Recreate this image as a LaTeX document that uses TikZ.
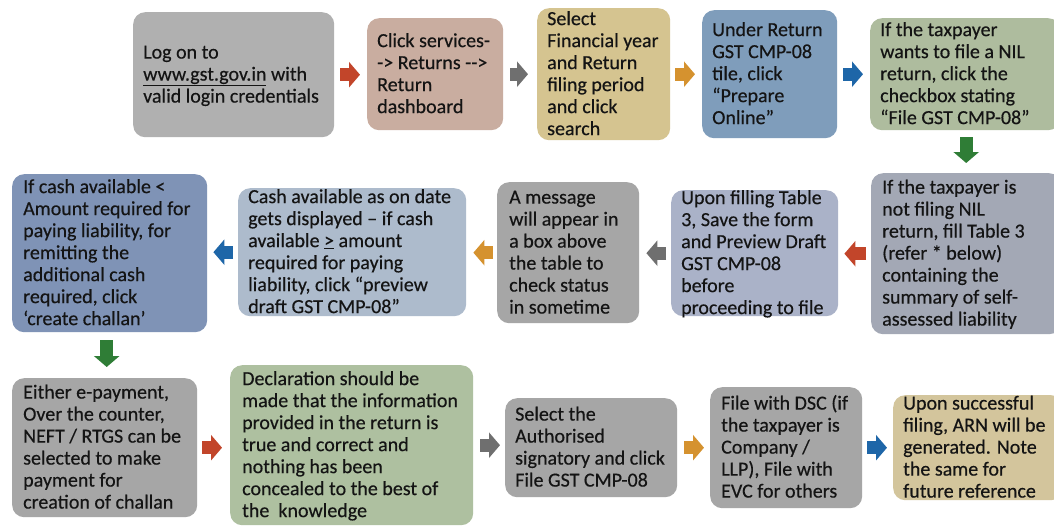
\documentclass[tikz,border=0pt]{standalone}
\usepackage{fontspec}
\setmainfont{Carlito}[FakeBold=0.4]
\usetikzlibrary{arrows.meta}
\definecolor{cbA}{HTML}{B0B0B0}
\definecolor{cbB}{HTML}{C9ADA0}
\definecolor{cbC}{HTML}{D5C490}
\definecolor{cbD}{HTML}{7F9DBB}
\definecolor{cbE}{HTML}{AEBC9E}
\definecolor{ccA}{HTML}{A3A8B5}
\definecolor{ccB}{HTML}{AAB2C8}
\definecolor{ccC}{HTML}{A6A6A6}
\definecolor{ccD}{HTML}{ADBBCC}
\definecolor{ccE}{HTML}{7F93B6}
\definecolor{cdA}{HTML}{A6A6A6}
\definecolor{cdB}{HTML}{AEC0A0}
\definecolor{cdC}{HTML}{A6A6A6}
\definecolor{cdD}{HTML}{A6A6A6}
\definecolor{cdE}{HTML}{D3C59C}
\definecolor{arR}{HTML}{C2452A}
\definecolor{arG}{HTML}{6F6F6F}
\definecolor{arO}{HTML}{D5922F}
\definecolor{arB}{HTML}{1E66A8}
\definecolor{arV}{HTML}{2F7D36}
\definecolor{txtc}{HTML}{141414}
\newcommand{\bl}[1]{\begin{tabular}{@{}l@{}}#1\end{tabular}}
\begin{document}
\begin{tikzpicture}[x=1pt,y=-1pt,
  box/.style={rounded corners=12pt, draw=none, inner sep=0pt, anchor=north west},
  txt/.style={inner sep=0pt, anchor=west, text=txtc, font=\fontsize{20}{22}\selectfont},
  flow/.style={line width=13pt, -{Triangle[width=25pt,length=11pt]}}]
\fill[white] (0,0) rectangle (1054,527);
\useasboundingbox (0,0) rectangle (1054,527);
% row 1
\node[box, fill=cbA, minimum width=201pt, minimum height=125pt] (b1) at (133,12) {};
\node[txt] (t1) at ([xshift=10pt,yshift=-1.5pt]b1.west) {\bl{Log on to\\\underline{www.gst.gov.in} with\\valid login credentials}};
\node[box, fill=cbB, minimum width=136pt, minimum height=112pt] (b2) at (367,18) {};
\node[txt] (t2) at ([xshift=10pt,yshift=-1.5pt]b2.west) {\bl{Click services-\\-> Returns -{}->\\Return\\dashboard}};
\node[box, fill=cbC, minimum width=133pt, minimum height=132pt] (b3) at (537,8) {};
\node[txt] (t3) at ([xshift=10pt,yshift=-1.5pt]b3.west) {\bl{Select\\Financial year\\and Return\\filing period\\and click\\search}};
\node[box, fill=cbD, minimum width=135pt, minimum height=128pt] (b4) at (702,10) {};
\node[txt] (t4) at ([xshift=10pt,yshift=-1.5pt]b4.west) {\bl{Under Return\\GST CMP-08\\tile, click\\“Prepare\\Online”}};
\node[box, fill=cbE, minimum width=190pt, minimum height=112pt] (b5) at (870,18) {};
\node[txt] (t5) at ([xshift=10pt,yshift=-1.5pt]b5.west) {\bl{If the taxpayer\\wants to file a NIL\\return, click the\\checkbox stating\\“File GST CMP-08”}};
% row 2
\node[box, fill=ccA, minimum width=190pt, minimum height=161pt] (c1) at (871,173) {};
\node[txt] (s1) at ([xshift=11pt,yshift=-1.5pt]c1.west) {\bl{If the taxpayer is\\not filing NIL\\return, fill Table 3\\(refer * below)\\containing the\\summary of self-\\assessed liability}};
\node[box, fill=ccB, minimum width=167pt, minimum height=126pt] (c2) at (671,190) {};
\node[txt] (s2) at ([xshift=10pt,yshift=-1.5pt]c2.west) {\bl{Upon filling Table\\3, Save the form\\and Preview Draft\\GST CMP-08\\before\\proceeding to file}};
\node[box, fill=ccC, minimum width=142pt, minimum height=141pt] (c3) at (497,182) {};
\node[txt] (s3) at ([xshift=12pt,yshift=-1.5pt]c3.west) {\bl{A message\\will appear in\\a box above\\the table to\\check status\\in sometime}};
\node[box, fill=ccD, minimum width=228pt, minimum height=128pt] (c4) at (238,188) {};
\node[txt] (s4) at ([xshift=10pt,yshift=-1.5pt]c4.west) {\bl{Cash available as on date\\gets displayed – if cash\\available \underline{>} amount\\required for paying\\liability, click “preview\\draft GST CMP-08”}};
\node[box, fill=ccE, minimum width=195pt, minimum height=158pt] (c5) at (12,174) {};
\node[txt] (s5) at ([xshift=11pt,yshift=-1.5pt]c5.west) {\bl{If cash available <\\Amount required for\\paying liability, for\\remitting the\\additional cash\\required, click\\‘create challan’}};
% row 3
\node[box, fill=cdA, minimum width=185pt, minimum height=139pt] (d1) at (12,378) {};
\node[txt] (u1) at ([xshift=11pt,yshift=-1.5pt]d1.west) {\bl{Either e-payment,\\Over the counter,\\NEFT / RTGS can be\\selected to make\\payment for\\creation of challan}};
\node[box, fill=cdB, minimum width=243pt, minimum height=160pt] (d2) at (230,365) {};
\node[txt] (u2) at ([xshift=12pt,yshift=-1.5pt]d2.west) {\bl{Declaration should be\\made that the information\\provided in the return is\\true and correct and\\nothing has been\\concealed to the best of\\the\ \ knowledge}};
\node[box, fill=cdC, minimum width=172pt, minimum height=99pt] (d3) at (505,398) {};
\node[txt] (u3) at ([xshift=10pt,yshift=-1.5pt]d3.west) {\bl{Select the\\Authorised\\signatory and click\\File GST CMP-08}};
\node[box, fill=cdD, minimum width=152pt, minimum height=121pt] (d4) at (710,387) {};
\node[txt] (u4) at ([xshift=11pt,yshift=-1.5pt]d4.west) {\bl{File with DSC (if\\the taxpayer is\\Company /\\LLP), File with\\EVC for others}};
\node[box, fill=cdE, minimum width=170pt, minimum height=105pt] (d5) at (893,395) {};
\node[txt] (u5) at ([xshift=10pt,yshift=-1.5pt]d5.west) {\bl{Upon successful\\filing, ARN will be\\generated. Note\\the same for\\future reference}};
% arrows row 1
\draw[flow, arR, shorten <=6pt, shorten >=7pt] (b1.east) -- (b1.east -| b2.west);
\draw[flow, arG, shorten <=7pt, shorten >=9pt] (b2.east) -- (b2.east -| b3.west);
\draw[flow, arO, shorten <=5pt, shorten >=7pt] (b3.east) -- (b3.east -| b4.west);
\draw[flow, arB, shorten <=6pt, shorten >=7pt] (b4.east) -- (b4.east -| b5.west);
\draw[flow, arV, shorten <=7pt, shorten >=10pt] ([xshift=1pt]b5.south) -- ([xshift=1pt]b5.south |- c1.north);
% arrows row 2
\draw[flow, arR, shorten <=5pt, shorten >=6pt] (c1.west) -- (c1.west -| c2.east);
\draw[flow, arG, shorten <=5pt, shorten >=7pt] (c2.west) -- (c2.west -| c3.east);
\draw[flow, arO, shorten <=4pt, shorten >=7pt] (c3.west) -- (c3.west -| c4.east);
\draw[flow, arB, shorten <=5pt, shorten >=6pt] (c4.west) -- (c4.west -| c5.east);
\draw[flow, arV, shorten <=8pt, shorten >=11pt] ([xshift=-3pt]c5.south) -- ([xshift=-3pt]c5.south |- d1.north);
% arrows row 3
\draw[flow, arR, shorten <=5pt, shorten >=8pt] (d1.east) -- (d1.east -| d2.west);
\draw[flow, arG, shorten <=7pt, shorten >=5pt] (d2.east) -- (d2.east -| d3.west);
\draw[flow, arO, shorten <=7pt, shorten >=6pt] (d3.east) -- (d3.east -| d4.west);
\draw[flow, arB, shorten <=5pt, shorten >=6pt] (d4.east) -- (d4.east -| d5.west);
\end{tikzpicture}
\end{document}
